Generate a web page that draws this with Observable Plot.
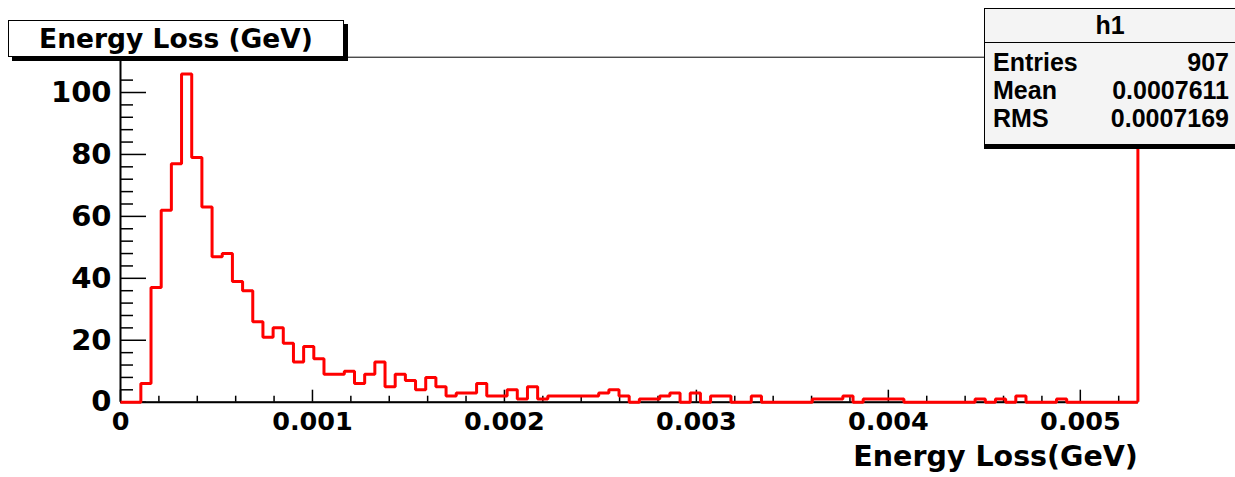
<!DOCTYPE html>
<html>
<head>
<meta charset="utf-8">
<script src="https://cdn.jsdelivr.net/npm/d3@7"></script>
<script src="https://cdn.jsdelivr.net/npm/@observablehq/plot@0.6"></script>
<style>
  body { margin: 0; background: #fff; }
  #wrap { position: relative; width: 1235px; height: 477px; overflow: hidden; }
  #wrap svg { position: absolute; left: 0; top: 0; display: block; }
  #title { position: absolute; left: 8px; top: 20px; width: 334px; height: 35px;
    border: 1px solid #000; background: #fff; box-shadow: 4px 4px 0 #000;
    font: bold 26.5px "DejaVu Sans"; display: flex; align-items: center; justify-content: center; color: #000; }
  #stats { position: absolute; left: 984px; top: 8px; width: 250px; height: 135px;
    border: 1px solid #000; background: #f4f4f4; box-shadow: 0 4px 0 #000;
    font: bold 25px "Liberation Sans"; color: #000; }
  #stats .hdr { position: absolute; left: 0; top: 0; width: 250px; height: 33px; line-height: 33px;
    text-align: center; border-bottom: 1px solid #000; }
  #stats .row { position: absolute; left: 8px; width: 236px; height: 28px; line-height: 28px; }
  #stats .row span.v { position: absolute; right: 0; }
</style>
</head>
<body>
<div id="wrap">
  <div id="chart"></div>
</div>
<script>
// ---- data ----
const binCounts = [
  0, 0, 6, 37, 62, 77, 106, 79, 63, 47,
  48, 39, 36, 26, 21, 24, 19, 13, 18, 14,
  9, 9, 10, 6, 9, 13, 5, 9, 7, 4,
  8, 5, 2, 3, 3, 6, 2, 2, 4, 1,
  5, 1, 2, 2, 2, 2, 2, 3, 4, 2,
  0, 1, 1, 2, 3, 0, 3, 0, 2, 2,
  0, 0, 2, 0, 0, 0, 0, 0, 1, 1,
  1, 2, 0, 1, 1, 1, 1, 0, 0, 0,
  0, 0, 0, 0, 1, 0, 1, 0, 2, 0,
  0, 0, 1, 0, 0, 0, 0, 0, 0, 0
];
const xMin = 0;
const xMax = 0.0053;
const yMax = 111.4;
const xMajorTicks = [0, 0.001, 0.002, 0.003, 0.004, 0.005];
const xTickLabels = ["0", "0.001", "0.002", "0.003", "0.004", "0.005"];
const xMinorTicks = [0.0002, 0.0004, 0.0006, 0.0008, 0.0012, 0.0014, 0.0016, 0.0018,
  0.0022, 0.0024, 0.0026, 0.0028, 0.0032, 0.0034, 0.0036, 0.0038,
  0.0042, 0.0044, 0.0046, 0.0048, 0.0052];
const yMajorTicks = [0, 20, 40, 60, 80, 100];
const yMinorTicks = [4, 8, 12, 16, 24, 28, 32, 36, 44, 48, 52, 56, 64, 68, 72, 76, 84, 88, 92, 96, 104];
const histTitle = "Energy Loss (GeV)";
const xTitle = "Energy Loss(GeV)";
const statsName = "h1";
const statsLabels = ["Entries", "Mean", "RMS"];
const statsValues = ["907", "0.0007611", "0.0007169"];

// ---- build step points ----
const binWidth = (xMax - xMin) / binCounts.length;
const steps = binCounts.map((c, i) => ({x: xMin + i * binWidth, y: c}));
steps.push({x: xMax, y: 0});

const W = 1235, H = 477;
const mL = 120, mR = 97.6, mT = 56.7, mB = 75.3;
const plotW = W - mL - mR, plotH = H - mT - mB;

const chart = Plot.plot({
  width: W, height: H,
  marginLeft: mL, marginRight: mR, marginTop: mT, marginBottom: mB,
  style: {background: "transparent", color: "#000"},
  x: {domain: [xMin, xMax]},
  y: {domain: [0, yMax]},
  marks: [
    Plot.frame({stroke: "#000", strokeWidth: 1}),
    Plot.ruleX(xMinorTicks, {x: d => d, insetTop: plotH - 6, stroke: "#000", strokeWidth: 1.5}),
    Plot.ruleX(xMajorTicks, {x: d => d, insetTop: plotH - 12, stroke: "#000", strokeWidth: 1.5}),
    Plot.ruleY(yMinorTicks, {y: d => d, insetRight: plotW - 13, stroke: "#000", strokeWidth: 1.5}),
    Plot.ruleY(yMajorTicks, {y: d => d, insetRight: plotW - 26, stroke: "#000", strokeWidth: 1.5}),
    Plot.axisX({ticks: xMajorTicks, tickSize: 0, tickPadding: 10,
      tickFormat: d => xTickLabels[xMajorTicks.indexOf(d)],
      fontSize: 25.5, fontWeight: "bold", fontFamily: "DejaVu Sans", label: null}),
    Plot.axisY({ticks: yMajorTicks, tickSize: 0, tickPadding: 9,
      fontSize: 29, fontWeight: "bold", fontFamily: "DejaVu Sans", label: null}),
    Plot.ruleY([0], {stroke: "#000", strokeWidth: 2}),
    Plot.ruleX([xMin], {stroke: "#000", strokeWidth: 2}),
    Plot.line(steps, {x: "x", y: "y", curve: "step-after", stroke: "#ff0000", strokeWidth: 3,
      strokeLinejoin: "miter", strokeLinecap: "butt"}),
    Plot.ruleX([xMax], {y1: 0, y2: yMax, stroke: "#ff0000", strokeWidth: 3}),
    Plot.text([xTitle], {frameAnchor: "bottom-right", dy: 64, textAnchor: "end",
      fontSize: 28.5, fontWeight: "bold", fontFamily: "DejaVu Sans", fill: "#000"})
  ]
});
document.getElementById("wrap").appendChild(chart);

// ---- title box ----
const t = document.createElement("div");
t.id = "title";
t.textContent = histTitle;
document.getElementById("wrap").appendChild(t);

// ---- stats box ----
const s = document.createElement("div");
s.id = "stats";
const hdr = document.createElement("div");
hdr.className = "hdr";
hdr.textContent = statsName;
s.appendChild(hdr);
const rowCenters = [52.7, 81, 109.3];
statsLabels.forEach((lab, i) => {
  const r = document.createElement("div");
  r.className = "row";
  r.style.top = (rowCenters[i] - 14) + "px";
  const a = document.createElement("span");
  a.textContent = lab;
  const v = document.createElement("span");
  v.className = "v";
  v.textContent = statsValues[i];
  r.appendChild(a); r.appendChild(v);
  s.appendChild(r);
});
document.getElementById("wrap").appendChild(s);
</script>
</body>
</html>
